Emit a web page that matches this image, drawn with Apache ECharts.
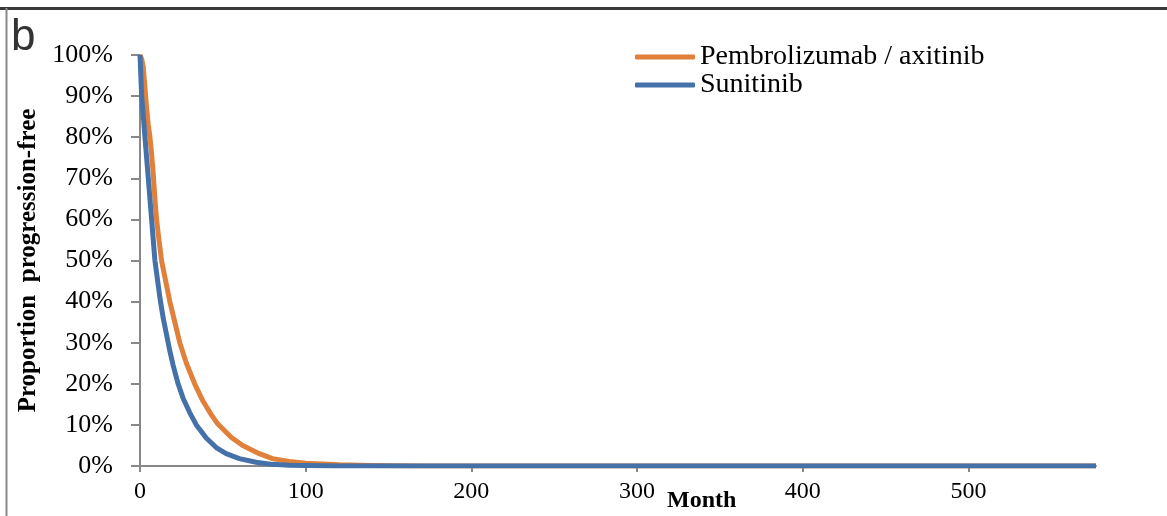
<!DOCTYPE html>
<html>
<head>
<meta charset="utf-8">
<script src="https://cdn.jsdelivr.net/npm/echarts@6/dist/echarts.min.js"></script>
<style>html,body{margin:0;padding:0;background:#fff}#c{width:1167px;height:516px}</style>
</head>
<body>
<div id="c"></div>
<script>
const seriesNames = ['Pembrolizumab / axitinib', 'Sunitinib'];
const xTicks = [0, 100, 200, 300, 400, 500];
const pembroMonths = [0, 1, 2, 3, 4, 5, 6, 7, 8, 9, 10, 11, 13, 15, 18, 21, 24, 28, 33, 38, 43, 47, 55, 62, 72, 80, 90, 100, 120, 140, 170, 200, 300, 400, 500, 577];
const pembroValues = [100, 99, 97, 92, 87, 83, 80, 76, 71, 65, 60, 56.5, 50, 46, 40, 35, 30, 25, 20, 15.8, 12.5, 10.2, 7, 5, 3, 1.8, 1.1, 0.7, 0.3, 0.1, 0.03, 0, 0, 0, 0, 0];
const suniMonths = [0, 1, 2, 3, 4, 5, 6, 7, 8, 9, 10, 12, 14, 16, 18, 20, 23, 26, 30, 34, 40, 46, 52, 60, 70, 80, 90, 100, 120, 150, 200, 300, 400, 500, 577];
const suniValues = [100, 90, 85, 80, 75, 70, 65, 60, 55, 50, 47, 41, 36, 32, 28, 24.5, 20, 16.5, 13, 10, 6.8, 4.5, 3, 1.8, 0.9, 0.4, 0.2, 0.1, 0.03, 0, 0, 0, 0, 0, 0];

const pair = (xs, ys) => xs.map((x, i) => [x, ys[i]]);
const chart = echarts.init(document.getElementById('c'));
const serif = '"Liberation Serif", "Times New Roman", serif';
chart.setOption({
  animation: false,
  backgroundColor: '#ffffff',
  grid: { left: 140, right: 71, top: 55, bottom: 50 },
  legend: {
    orient: 'vertical', left: 630, top: 38,
    itemWidth: 60, itemHeight: 5, itemGap: 0, icon: 'roundRect',
    textStyle: { fontFamily: serif, fontSize: 28, color: '#000', lineHeight: 27 },
    data: seriesNames
  },
  xAxis: {
    type: 'value', min: 0, max: 577, interval: 100,
    axisLine: { show: true, lineStyle: { color: '#888', width: 2 } },
    axisTick: { show: true, length: 6, lineStyle: { color: '#888', width: 2 }, customValues: xTicks },
    axisLabel: { customValues: xTicks, fontFamily: serif, fontSize: 24, color: '#000', margin: 14 },
    splitLine: { show: false }
  },
  yAxis: {
    type: 'value', min: 0, max: 100, interval: 10,
    name: 'Proportion  progression-free', nameLocation: 'middle', nameGap: 95,
    nameTextStyle: { fontFamily: serif, fontSize: 25, fontWeight: 'bold', color: '#000' },
    axisLine: { show: true, lineStyle: { color: '#888', width: 2 } },
    axisTick: { show: true, length: 9, lineStyle: { color: '#888', width: 2 } },
    axisLabel: { formatter: '{value}%', fontFamily: serif, fontSize: 26, color: '#000', margin: 27 },
    splitLine: { show: false }
  },
  series: [
    { name: seriesNames[0], type: 'line', data: pair(pembroMonths, pembroValues), smooth: false,
      showSymbol: false, color: '#E0803A', lineStyle: { width: 5, color: '#E0803A', join: 'round' } },
    { name: seriesNames[1], type: 'line', data: pair(suniMonths, suniValues), smooth: false,
      showSymbol: false, color: '#4471A9', lineStyle: { width: 5, color: '#4471A9', join: 'round' } }
  ],
  graphic: [
    { type: 'line', shape: { x1: 0, y1: 8.5, x2: 1167, y2: 8.5 }, style: { stroke: '#3a3a3a', lineWidth: 3 } },
    { type: 'line', shape: { x1: 6.5, y1: 8, x2: 6.5, y2: 516 }, style: { stroke: '#8a8a8a', lineWidth: 2 } },
    { type: 'text', left: 11, top: 16, style: { text: 'b', font: '44px "Liberation Sans", Arial, sans-serif', fill: '#333' } },
    { type: 'text', left: 667, top: 489, style: { text: 'Month', font: 'bold 24px "Liberation Serif", "Times New Roman", serif', fill: '#000' } }
  ]
});
</script>
</body>
</html>
